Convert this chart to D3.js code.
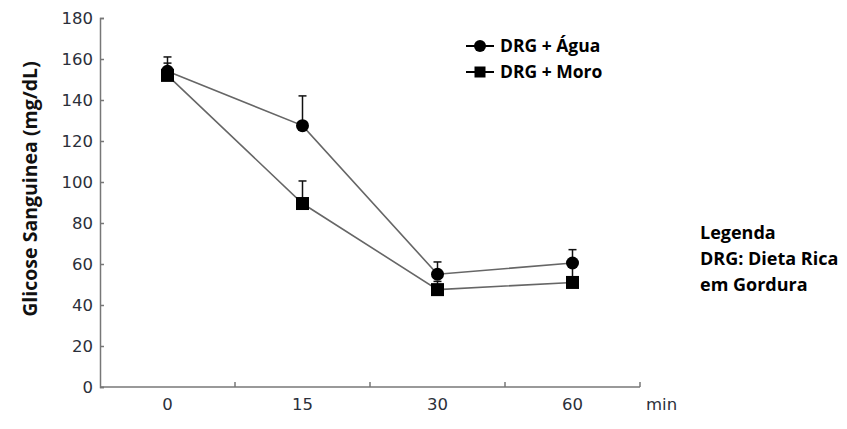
<!DOCTYPE html>
<html><head><meta charset="utf-8">
<script src="https://cdn.jsdelivr.net/npm/d3@7"></script>
<style>body{margin:0;background:#fff}svg{display:block}</style>
</head><body>
<svg id="c" width="847" height="429"></svg>
<script>
const categories = ["0", "15", "30", "60"];
const aguaValues = [154, 127.5, 55, 60.5];
const aguaErr = [7, 14.5, 6, 6.5];
const moroValues = [152, 89.5, 47.5, 51];
const moroErr = [6, 11, 4, 9];
const yTicks = [0, 20, 40, 60, 80, 100, 120, 140, 160, 180];
const seriesNames = ["DRG + Água", "DRG + Moro"];
const noteLines = ["Legenda", "DRG: Dieta Rica", "em Gordura"];

const svg = d3.select("#c");
const x = d3.scaleBand().domain(categories).range([100, 640]);
const y = d3.scaleLinear().domain([0, 180]).range([387, 18]);
const cx = c => x(c) + x.bandwidth() / 2;
const axisColor = "#777";
const tickFont = "DejaVu Sans, Verdana, sans-serif";
const tickColor = "#2b2f3a";

// Y axis
const ya = svg.append("g").attr("transform", "translate(100,0)")
  .call(d3.axisLeft(y).tickValues(yTicks).tickSize(-4).tickPadding(7));
ya.select(".domain").attr("stroke", axisColor).attr("stroke-width", 1.5);
ya.selectAll(".tick line").attr("stroke", axisColor).attr("stroke-width", 1.5);
ya.selectAll(".tick text").attr("fill", tickColor).style("font-family", tickFont).style("font-size", "16.5px");

// X axis with ticks at band boundaries
const xa = svg.append("g").attr("transform", "translate(0,387)");
xa.append("line").attr("x1", 100).attr("x2", 640).attr("stroke", axisColor).attr("stroke-width", 1.5);
xa.selectAll("line.t").data(categories).enter().append("line").attr("class", "t")
  .attr("x1", c => x(c) + x.bandwidth()).attr("x2", c => x(c) + x.bandwidth())
  .attr("y1", 0).attr("y2", -5).attr("stroke", axisColor).attr("stroke-width", 1.5);
xa.selectAll("text").data(categories).enter().append("text")
  .attr("x", cx).attr("y", 23).attr("text-anchor", "middle")
  .attr("fill", tickColor).style("font-family", tickFont).style("font-size", "16.5px")
  .text(c => c);
svg.append("text").attr("x", 646).attr("y", 410).attr("fill", tickColor)
  .style("font-family", tickFont).style("font-size", "16.5px").text("min");

// Y title
svg.append("text").attr("transform", "translate(37,189) rotate(-90)").attr("text-anchor", "middle")
  .style("font-family", "Open Sans, sans-serif").style("font-weight", "bold").style("font-size", "19.5px")
  .attr("fill", "#111").text("Glicose Sanguinea (mg/dL)");

const series = [
  {vals: aguaValues, err: aguaErr, shape: "circle"},
  {vals: moroValues, err: moroErr, shape: "square"}
];
const line = d3.line().x((d, i) => cx(categories[i])).y(d => y(d));

// lines
series.forEach(s => {
  svg.append("path").attr("d", line(s.vals)).attr("fill", "none")
    .attr("stroke", "#666").attr("stroke-width", 1.6);
});
// error bars
series.forEach(s => {
  const g = svg.append("g");
  s.vals.forEach((v, i) => {
    const px = cx(categories[i]);
    g.append("line").attr("x1", px).attr("x2", px).attr("y1", y(v)).attr("y2", y(v + s.err[i]))
      .attr("stroke", "#111").attr("stroke-width", 1.5);
    g.append("line").attr("x1", px - 4).attr("x2", px + 4).attr("y1", y(v + s.err[i])).attr("y2", y(v + s.err[i]))
      .attr("stroke", "#111").attr("stroke-width", 1.5);
  });
});
// markers
series.forEach(s => {
  s.vals.forEach((v, i) => {
    const px = cx(categories[i]);
    if (s.shape === "circle") svg.append("circle").attr("cx", px).attr("cy", y(v)).attr("r", 6.5).attr("fill", "#000");
    else svg.append("rect").attr("x", px - 6.5).attr("y", y(v) - 6.5).attr("width", 13).attr("height", 13).attr("fill", "#000");
  });
});

// legend
const lg = svg.append("g");
seriesNames.forEach((n, i) => {
  const ly = 46 + i * 26;
  lg.append("line").attr("x1", 466).attr("x2", 494).attr("y1", ly).attr("y2", ly).attr("stroke", "#000").attr("stroke-width", 2);
  if (i === 0) lg.append("circle").attr("cx", 480).attr("cy", ly).attr("r", 6).attr("fill", "#000");
  else lg.append("rect").attr("x", 474.5).attr("y", ly - 5.5).attr("width", 11).attr("height", 11).attr("fill", "#000");
  lg.append("text").attr("x", 500).attr("y", ly + 6).attr("fill", "#000")
    .style("font-family", "Open Sans, sans-serif").style("font-weight", "bold").style("font-size", "17.5px").text(n);
});

// note
noteLines.forEach((t, i) => {
  svg.append("text").attr("x", 700).attr("y", 239 + i * 26).attr("fill", "#000")
    .style("font-family", "Open Sans, sans-serif").style("font-weight", "bold").style("font-size", "18px").text(t);
});
</script>
</body></html>
